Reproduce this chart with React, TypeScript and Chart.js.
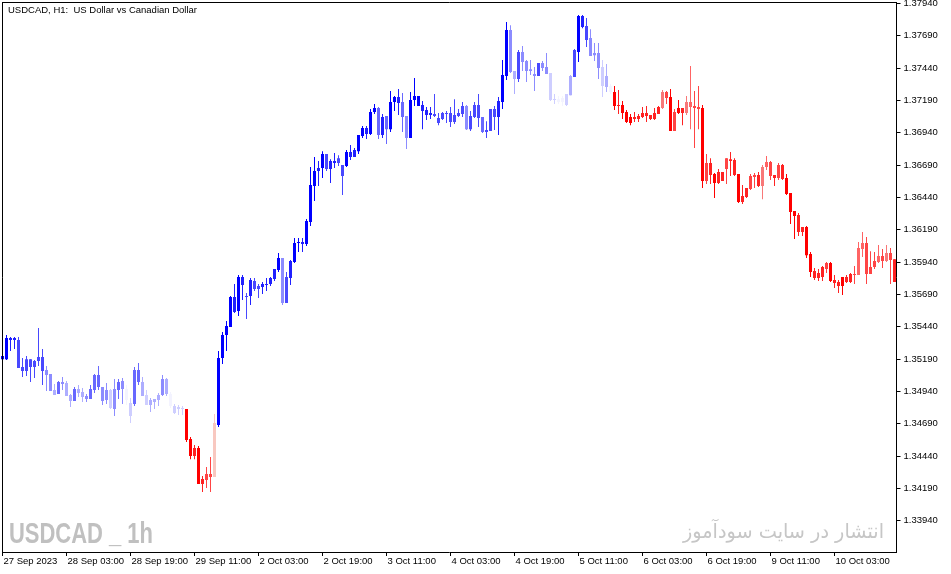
import React, { useEffect, useRef } from 'react';
import { Chart, registerables } from 'chart.js';

Chart.register(...registerables);

// ---- data (USDCAD, H1) ----
const tickLabels = ['27 Sep 2023', '28 Sep 03:00', '28 Sep 19:00', '29 Sep 11:00', '2 Oct 03:00', '2 Oct 19:00', '3 Oct 11:00', '4 Oct 03:00', '4 Oct 19:00', '5 Oct 11:00', '6 Oct 03:00', '6 Oct 19:00', '9 Oct 11:00', '10 Oct 03:00'];
const tickEvery = 16;
const priceTicks = [1.33940, 1.34190, 1.34440, 1.34690, 1.34940, 1.35190, 1.35440, 1.35690, 1.35940, 1.36190, 1.36440, 1.36690, 1.36940, 1.37190, 1.37440, 1.37690, 1.37940];

const open = [
  1.35214, 1.35190, 1.35353, 1.35338, 1.35338, 1.35129, 1.35098, 1.35190, 1.35129, 1.35175,
  1.35206, 1.35106, 1.35075, 1.34951, 1.34920, 1.35014, 1.35006, 1.34912, 1.34866, 1.34959,
  1.34936, 1.34905, 1.34881, 1.34951, 1.35067, 1.34975, 1.34874, 1.34951, 1.34804, 1.34951,
  1.35021, 1.34959, 1.34851, 1.34843, 1.35106, 1.35014, 1.34912, 1.34835, 1.34881, 1.34874,
  1.34912, 1.35036, 1.34920, 1.34828, 1.34804, 1.34812, 1.34804, 1.34572, 1.34441, 1.34503,
  1.34225, 1.34256, 1.34302, 1.34279, 1.34680, 1.35198, 1.35376, 1.35438, 1.35670, 1.35562,
  1.35825, 1.35678, 1.35678, 1.35794, 1.35732, 1.35748, 1.35771, 1.35771, 1.35809, 1.35879,
  1.35971, 1.35624, 1.35817, 1.35941, 1.36088, 1.36096, 1.36080, 1.36250, 1.36529, 1.36644,
  1.36667, 1.36775, 1.36659, 1.36721, 1.36706, 1.36690, 1.36683, 1.36791, 1.36752, 1.36798,
  1.36915, 1.36976, 1.36930, 1.37101, 1.37131, 1.36922, 1.37070, 1.36968, 1.37178, 1.37216,
  1.37178, 1.37070, 1.36899, 1.37193, 1.37224, 1.37154, 1.37116, 1.37077, 1.37085, 1.37054,
  1.37046, 1.37093, 1.37093, 1.37023, 1.37070, 1.37085, 1.37147, 1.36968, 1.37062, 1.37154,
  1.37062, 1.36946, 1.36953, 1.37123, 1.37062, 1.37178, 1.37379, 1.37734, 1.37417, 1.37355,
  1.37564, 1.37494, 1.37417, 1.37394, 1.37379, 1.37479, 1.37448, 1.37402, 1.37193, 1.37200,
  1.37178, 1.37154, 1.37231, 1.37371, 1.37564, 1.37843, 1.37765, 1.37672, 1.37540, 1.37556,
  1.37448, 1.37294, 1.37302, 1.37255, 1.37147, 1.37154, 1.37101, 1.37062, 1.37046, 1.37070,
  1.37062, 1.37093, 1.37077, 1.37046, 1.37085, 1.37131, 1.37255, 1.37216, 1.36953, 1.37093,
  1.37131, 1.37093, 1.37178, 1.37147, 1.37123, 1.37131, 1.36567, 1.36706, 1.36621, 1.36552,
  1.36637, 1.36659, 1.36736, 1.36729, 1.36621, 1.36405, 1.36443, 1.36505, 1.36598, 1.36613,
  1.36529, 1.36675, 1.36714, 1.36613, 1.36590, 1.36690, 1.36590, 1.36474, 1.36335, 1.36304,
  1.36173, 1.36211, 1.36002, 1.35871, 1.35817, 1.35825, 1.35886, 1.35933, 1.35802, 1.35787,
  1.35756, 1.35825, 1.35787, 1.35848, 1.35840, 1.36041, 1.36088, 1.35848, 1.35902, 1.35941,
  1.35987, 1.35948, 1.36010, 1.35963,
];

const high = [
  1.35221, 1.35376, 1.35361, 1.35361, 1.35361, 1.35198, 1.35214, 1.35190, 1.35183, 1.35430,
  1.35268, 1.35137, 1.35075, 1.34998, 1.35021, 1.35052, 1.35021, 1.34920, 1.34975, 1.34990,
  1.34967, 1.34920, 1.34990, 1.35075, 1.35137, 1.34975, 1.35006, 1.34959, 1.35036, 1.35036,
  1.35044, 1.34990, 1.34889, 1.35129, 1.35160, 1.35052, 1.34951, 1.34889, 1.34881, 1.34928,
  1.35067, 1.35044, 1.34936, 1.34843, 1.34835, 1.34828, 1.34804, 1.34588, 1.34526, 1.34519,
  1.34287, 1.34356, 1.34433, 1.34766, 1.35252, 1.35400, 1.35484, 1.35678, 1.35771, 1.35840,
  1.35840, 1.35701, 1.35817, 1.35817, 1.35771, 1.35787, 1.35817, 1.35825, 1.35886, 1.36010,
  1.35971, 1.35864, 1.35956, 1.36126, 1.36126, 1.36126, 1.36273, 1.36675, 1.36752, 1.36721,
  1.36798, 1.36775, 1.36736, 1.36783, 1.36767, 1.36690, 1.36806, 1.36845, 1.36822, 1.36922,
  1.36992, 1.36992, 1.37123, 1.37162, 1.37139, 1.37085, 1.37070, 1.37262, 1.37224, 1.37278,
  1.37247, 1.37070, 1.37255, 1.37363, 1.37224, 1.37185, 1.37139, 1.37139, 1.37239, 1.37093,
  1.37101, 1.37108, 1.37139, 1.37200, 1.37123, 1.37178, 1.37154, 1.37108, 1.37178, 1.37239,
  1.37062, 1.37030, 1.37123, 1.37147, 1.37216, 1.37502, 1.37796, 1.37772, 1.37417, 1.37579,
  1.37611, 1.37502, 1.37502, 1.37448, 1.37479, 1.37494, 1.37556, 1.37402, 1.37239, 1.37224,
  1.37224, 1.37239, 1.37386, 1.37587, 1.37850, 1.37850, 1.37827, 1.37741, 1.37634, 1.37634,
  1.37502, 1.37471, 1.37317, 1.37302, 1.37270, 1.37185, 1.37116, 1.37085, 1.37101, 1.37085,
  1.37139, 1.37147, 1.37077, 1.37131, 1.37147, 1.37270, 1.37262, 1.37278, 1.37123, 1.37193,
  1.37131, 1.37224, 1.37456, 1.37262, 1.37302, 1.37154, 1.36775, 1.36744, 1.36629, 1.36659,
  1.36637, 1.36744, 1.36791, 1.36744, 1.36621, 1.36536, 1.36513, 1.36621, 1.36629, 1.36637,
  1.36690, 1.36760, 1.36721, 1.36613, 1.36706, 1.36698, 1.36621, 1.36474, 1.36335, 1.36320,
  1.36211, 1.36219, 1.36018, 1.35894, 1.35886, 1.35910, 1.35941, 1.35941, 1.35840, 1.35802,
  1.35825, 1.35840, 1.35856, 1.35910, 1.36096, 1.36173, 1.36134, 1.36025, 1.36018, 1.36072,
  1.36041, 1.36072, 1.36049, 1.35963,
];

const low = [
  1.35183, 1.35183, 1.35252, 1.35268, 1.35121, 1.35052, 1.35060, 1.35014, 1.35044, 1.35137,
  1.34990, 1.34943, 1.34943, 1.34912, 1.34920, 1.34951, 1.34905, 1.34820, 1.34866, 1.34897,
  1.34859, 1.34859, 1.34881, 1.34928, 1.34951, 1.34835, 1.34843, 1.34804, 1.34751, 1.34881,
  1.34843, 1.34835, 1.34696, 1.34828, 1.34990, 1.34905, 1.34835, 1.34782, 1.34804, 1.34828,
  1.34905, 1.34905, 1.34812, 1.34766, 1.34758, 1.34758, 1.34550, 1.34417, 1.34417, 1.34225,
  1.34163, 1.34194, 1.34163, 1.34279, 1.34665, 1.35152, 1.35252, 1.35438, 1.35547, 1.35524,
  1.35647, 1.35500, 1.35608, 1.35716, 1.35662, 1.35693, 1.35716, 1.35756, 1.35794, 1.35864,
  1.35608, 1.35624, 1.35763, 1.35933, 1.36018, 1.36018, 1.36065, 1.36219, 1.36412, 1.36529,
  1.36590, 1.36644, 1.36552, 1.36667, 1.36683, 1.36458, 1.36675, 1.36729, 1.36752, 1.36775,
  1.36899, 1.36891, 1.36922, 1.37085, 1.36891, 1.36899, 1.36853, 1.36946, 1.37108, 1.37077,
  1.36946, 1.36814, 1.36899, 1.37147, 1.37147, 1.36968, 1.37038, 1.37046, 1.37062, 1.36999,
  1.37038, 1.37015, 1.36984, 1.37007, 1.37062, 1.37062, 1.36961, 1.36953, 1.37054, 1.36984,
  1.36938, 1.36899, 1.36953, 1.36961, 1.36922, 1.37123, 1.37348, 1.37402, 1.37239, 1.37333,
  1.37417, 1.37333, 1.37386, 1.37262, 1.37379, 1.37417, 1.37394, 1.37185, 1.37162, 1.37162,
  1.37147, 1.37147, 1.37231, 1.37371, 1.37487, 1.37749, 1.37603, 1.37533, 1.37494, 1.37355,
  1.37216, 1.37255, 1.37239, 1.37116, 1.37085, 1.37046, 1.37015, 1.36999, 1.37023, 1.37023,
  1.37054, 1.37023, 1.37038, 1.37038, 1.37085, 1.37123, 1.37162, 1.36953, 1.36953, 1.37085,
  1.36999, 1.37077, 1.36968, 1.36822, 1.36968, 1.36513, 1.36544, 1.36544, 1.36435, 1.36544,
  1.36567, 1.36544, 1.36606, 1.36606, 1.36397, 1.36389, 1.36435, 1.36497, 1.36513, 1.36521,
  1.36427, 1.36652, 1.36575, 1.36529, 1.36575, 1.36575, 1.36458, 1.36234, 1.36118, 1.36142,
  1.36142, 1.35971, 1.35825, 1.35802, 1.35794, 1.35794, 1.35856, 1.35787, 1.35740, 1.35701,
  1.35685, 1.35779, 1.35779, 1.35771, 1.35840, 1.35979, 1.35771, 1.35848, 1.35886, 1.35933,
  1.35894, 1.35941, 1.35771, 1.35787,
];

const close = [
  1.35190, 1.35353, 1.35338, 1.35353, 1.35121, 1.35098, 1.35190, 1.35129, 1.35175, 1.35206,
  1.35098, 1.35067, 1.34943, 1.34912, 1.35014, 1.34998, 1.34905, 1.34866, 1.34959, 1.34928,
  1.34897, 1.34881, 1.34959, 1.35067, 1.34975, 1.34866, 1.34951, 1.34812, 1.34959, 1.35014,
  1.34959, 1.34874, 1.34751, 1.35106, 1.35014, 1.34905, 1.34835, 1.34874, 1.34859, 1.34912,
  1.35036, 1.34920, 1.34828, 1.34774, 1.34820, 1.34804, 1.34565, 1.34441, 1.34503, 1.34225,
  1.34263, 1.34302, 1.34279, 1.34696, 1.35198, 1.35376, 1.35446, 1.35670, 1.35555, 1.35825,
  1.35763, 1.35670, 1.35802, 1.35732, 1.35756, 1.35771, 1.35763, 1.35817, 1.35886, 1.35971,
  1.35624, 1.35825, 1.35948, 1.36088, 1.36096, 1.36080, 1.36257, 1.36536, 1.36644, 1.36667,
  1.36775, 1.36659, 1.36721, 1.36706, 1.36744, 1.36606, 1.36791, 1.36752, 1.36806, 1.36922,
  1.36976, 1.36930, 1.37101, 1.37131, 1.36922, 1.37062, 1.36968, 1.37178, 1.37216, 1.37170,
  1.37062, 1.36899, 1.37193, 1.37224, 1.37147, 1.37108, 1.37077, 1.37093, 1.37070, 1.37015,
  1.37093, 1.37085, 1.37023, 1.37077, 1.37093, 1.37147, 1.36968, 1.37070, 1.37154, 1.37054,
  1.36946, 1.36961, 1.37123, 1.37062, 1.37185, 1.37386, 1.37734, 1.37410, 1.37355, 1.37564,
  1.37487, 1.37417, 1.37432, 1.37379, 1.37479, 1.37440, 1.37394, 1.37193, 1.37200, 1.37178,
  1.37208, 1.37239, 1.37379, 1.37579, 1.37843, 1.37757, 1.37657, 1.37533, 1.37556, 1.37440,
  1.37302, 1.37379, 1.37255, 1.37147, 1.37154, 1.37093, 1.37023, 1.37015, 1.37062, 1.37046,
  1.37093, 1.37070, 1.37046, 1.37093, 1.37139, 1.37255, 1.37208, 1.36953, 1.37101, 1.37131,
  1.37093, 1.37178, 1.37139, 1.37131, 1.37139, 1.36567, 1.36706, 1.36613, 1.36552, 1.36637,
  1.36567, 1.36744, 1.36721, 1.36613, 1.36405, 1.36451, 1.36513, 1.36606, 1.36613, 1.36529,
  1.36675, 1.36714, 1.36606, 1.36590, 1.36690, 1.36582, 1.36466, 1.36328, 1.36297, 1.36173,
  1.36211, 1.35994, 1.35864, 1.35817, 1.35856, 1.35902, 1.35933, 1.35794, 1.35779, 1.35756,
  1.35825, 1.35787, 1.35848, 1.35840, 1.36049, 1.36088, 1.35848, 1.35902, 1.35948, 1.35987,
  1.35948, 1.36010, 1.35956, 1.35787,
];

// trend-strength indicator per bar (+ = up/blue, - = down/red, magnitude 0..7)
const trendStrength = [
  7, 7, 6, 6, 5, 5, 5, 5, 5, 5,
  5, 3, 3, 2, 4, 3, 2, 2, 4, 2,
  2, 3, 4, 4, 4, 3, 3, 1, 3, 4,
  3, 0, 1, 4, 4, 2, 1, 2, 2, 2,
  3, 2, 0, 1, 1, 1, -7, -7, -6, -7,
  -6, -5, -5, -1, 7, 7, 7, 7, 6, 7,
  6, 5, 6, 5, 5, 6, 6, 6, 6, 7,
  3, 5, 6, 7, 7, 6, 7, 7, 7, 6,
  7, 5, 6, 6, 5, 5, 7, 6, 6, 7,
  7, 6, 7, 7, 4, 6, 4, 7, 7, 6,
  4, 3, 7, 7, 7, 6, 6, 6, 5, 5,
  5, 5, 5, 5, 5, 5, 3, 5, 5, 5,
  4, 5, 5, 5, 6, 7, 7, 3, 2, 5,
  3, 3, 3, 3, 5, 3, 3, 1, 1, 0,
  0, 1, 2, 5, 7, 6, 5, 3, 3, 3,
  1, 2, 0, -7, -6, -7, -7, -7, -6, -6,
  -6, -6, -6, -6, -6, -3, -5, -7, -5, -7,
  -6, -3, -4, -5, -5, -7, -5, -6, -7, -6,
  -6, -5, -6, -6, -7, -6, -6, -5, -5, -6,
  -3, -4, -5, -6, -5, -6, -7, -7, -7, -6,
  -6, -7, -7, -6, -6, -6, -5, -7, -6, -6,
  -7, -6, -6, -5, -4, -4, -5, -5, -5, -4,
  -5, -3, -5, -6,
];

// hourly bar times (weekends skipped)
const months = ['Jan', 'Feb', 'Mar', 'Apr', 'May', 'Jun', 'Jul', 'Aug', 'Sep', 'Oct', 'Nov', 'Dec'];
const categories: string[] = [];
for (let t = Date.UTC(2023, 8, 27, 11); categories.length < open.length; t += 3600000) {
  const d = new Date(t);
  const wd = d.getUTCDay();
  if (wd === 0 || wd === 6) continue;
  categories.push(`${d.getUTCDate()} ${months[d.getUTCMonth()]} ${String(d.getUTCHours()).padStart(2, '0')}:00`);
}

const strengthColors: Record<string, string> = {
  '7': '#0000FF', '6': '#2020FF', '5': '#4848FF', '4': '#6868FF', '3': '#8C8CFF', '2': '#ADADFF', '1': '#CECEFF', '0': '#F3F3FF',
  '-1': '#F8C8C0', '-2': '#FFA0A0', '-3': '#F87878', '-4': '#FF6464', '-5': '#FF4444', '-6': '#FF2222', '-7': '#FF0000',
};

const AXIS_FONT = '"Liberation Sans", Arial, sans-serif';

function fitText(ctx: CanvasRenderingContext2D, text: string, x: number, y: number, width: number, font: string, color: string, rtl = false) {
  ctx.save();
  ctx.font = font;
  ctx.fillStyle = color;
  ctx.textBaseline = 'alphabetic';
  (ctx as any).direction = rtl ? 'rtl' : 'ltr';
  ctx.textAlign = 'left';
  const w = ctx.measureText(text).width || 1;
  ctx.translate(x, y);
  ctx.scale(width / w, 1);
  ctx.fillText(text, 0, 0);
  ctx.restore();
}

const decorPlugin = {
  id: 'mtDecor',
  beforeDatasetsDraw(chart: any) {
    const ctx = chart.ctx as CanvasRenderingContext2D;
    fitText(ctx, 'USDCAD _ 1h', 9, 543, 144, `bold 30px ${AXIS_FONT}`, '#C0C0C0');
    fitText(ctx, 'انتشار در سایت سودآموز', 683, 538, 201, '20px "DejaVu Sans"', '#C6C6C6', true);
  },
  afterDraw(chart: any) {
    const ctx = chart.ctx as CanvasRenderingContext2D;
    const a = chart.chartArea;
    ctx.save();
    ctx.strokeStyle = '#000';
    ctx.lineWidth = 1;
    ctx.beginPath();
    ctx.moveTo(2.5, 2);
    ctx.lineTo(2.5, a.bottom + 0.5);
    ctx.moveTo(2, 2.5);
    ctx.lineTo(a.right, 2.5);
    ctx.moveTo(a.right, 2);
    ctx.lineTo(a.right, a.bottom + 0.5);
    ctx.moveTo(2, a.bottom + 0.5);
    ctx.lineTo(a.right + 0.5, a.bottom + 0.5);
    ctx.stroke();
    ctx.fillStyle = '#000';
    ctx.font = `9.5px ${AXIS_FONT}`;
    ctx.textBaseline = 'alphabetic';
    ctx.textAlign = 'left';
    ctx.fillText('USDCAD, H1:  US Dollar vs Canadian Dollar', 8, 12.5);
    ctx.restore();
  },
};

export default function App() {
  const ref = useRef<HTMLCanvasElement | null>(null);

  useEffect(() => {
    if (!ref.current) return;
    const colors = trendStrength.map((s) => strengthColors[String(s)]);
    const chart = new Chart(ref.current, {
      type: 'bar',
      data: {
        labels: categories,
        datasets: [
          {
            label: 'wick',
            data: low.map((l, i) => [l, high[i]]) as any,
            backgroundColor: colors,
            grouped: false,
            barPercentage: 1,
            categoryPercentage: 1,
            maxBarThickness: 1,
            inflateAmount: 0,
            borderWidth: 0,
            order: 2,
          } as any,
          {
            label: 'body',
            data: open.map((o, i) => [o, close[i]]) as any,
            backgroundColor: colors,
            grouped: false,
            barPercentage: 1,
            categoryPercentage: 1,
            maxBarThickness: 3,
            minBarLength: 1,
            inflateAmount: 0,
            borderWidth: 0,
            order: 1,
          } as any,
        ],
      },
      options: {
        animation: false,
        responsive: false,
        devicePixelRatio: 1,
        layout: { padding: { left: 0.5, top: 2, right: 0, bottom: 0 } },
        plugins: { legend: { display: false }, tooltip: { enabled: false }, title: { display: false } },
        scales: {
          x: {
            type: 'category',
            offset: true,
            grid: { display: true, drawOnChartArea: false, drawTicks: true, tickLength: 4, color: '#000', offset: false, lineWidth: 1 },
            border: { display: false },
            ticks: {
              autoSkip: false,
              maxRotation: 0,
              minRotation: 0,
              align: 'start',
              padding: 0,
              labelOffset: 1,
              color: '#000',
              font: { family: AXIS_FONT, size: 9.5 },
              callback: (v: any) => tickLabels[Math.round(Number(v) / tickEvery)] ?? '',
            },
            afterBuildTicks: (s: any) => {
              s.ticks = s.ticks.filter((t: any) => t.value % tickEvery === 0);
            },
            afterFit: (s: any) => {
              s.height = 22;
              s.paddingLeft = 0;
              s.paddingRight = 0;
            },
          },
          y: {
            type: 'linear',
            position: 'right',
            min: 1.33699,
            max: 1.37951,
            grid: { display: true, drawOnChartArea: false, drawTicks: true, tickLength: 4, color: '#000', lineWidth: 1 },
            border: { display: false },
            ticks: {
              padding: 3,
              color: '#000',
              font: { family: AXIS_FONT, size: 9.5 },
              callback: (v: any) => Number(v).toFixed(5),
            },
            afterBuildTicks: (s: any) => {
              s.ticks = priceTicks.map((value) => ({ value }));
            },
            afterFit: (s: any) => {
              s.width = 54.5;
              s.paddingTop = 0;
              s.paddingBottom = 0;
            },
          },
        },
      } as any,
      plugins: [decorPlugin],
    });
    return () => chart.destroy();
  }, []);

  return (
    <div style={{ position: 'fixed', left: 0, top: 0, width: 951, height: 574, background: '#fff' }}>
      <canvas ref={ref} width={951} height={574} style={{ display: 'block', width: 951, height: 574 }} />
    </div>
  );
}
